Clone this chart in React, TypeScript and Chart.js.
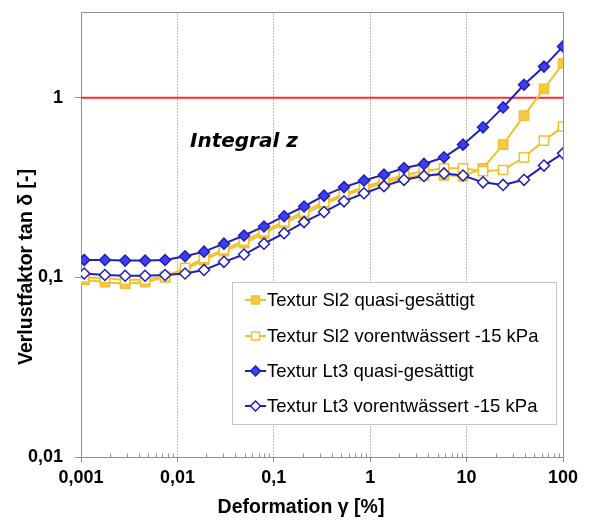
import React, { useEffect, useRef } from 'react';
import { Chart, registerables } from 'chart.js';
Chart.register(...registerables);

// ---- data ----
const strain = [0.00108, 0.00177, 0.00287, 0.00462, 0.00745, 0.012, 0.0189, 0.0304, 0.0491, 0.0791, 0.128, 0.206, 0.332, 0.535, 0.863, 1.39, 2.24, 3.61, 5.83, 9.18, 14.8, 23.9, 39.4, 63.5, 100];
const sl2Quasi = [0.097, 0.094, 0.092, 0.094, 0.1, 0.11, 0.125, 0.14, 0.155, 0.175, 0.2, 0.225, 0.255, 0.285, 0.31, 0.335, 0.36, 0.37, 0.37, 0.365, 0.405, 0.548, 0.795, 1.12, 1.55];
const sl2Vor = [0.1, 0.099, 0.097, 0.097, 0.101, 0.113, 0.128, 0.143, 0.16, 0.18, 0.205, 0.232, 0.262, 0.29, 0.318, 0.345, 0.37, 0.39, 0.405, 0.405, 0.39, 0.396, 0.466, 0.577, 0.69];
const lt3Quasi = [0.125, 0.125, 0.124, 0.124, 0.125, 0.131, 0.139, 0.154, 0.171, 0.192, 0.219, 0.248, 0.285, 0.318, 0.346, 0.373, 0.406, 0.428, 0.466, 0.548, 0.684, 0.883, 1.18, 1.49, 1.93];
const lt3Vor = [0.105, 0.103, 0.102, 0.102, 0.103, 0.105, 0.11, 0.122, 0.134, 0.154, 0.176, 0.203, 0.231, 0.265, 0.294, 0.322, 0.349, 0.367, 0.379, 0.369, 0.338, 0.327, 0.349, 0.419, 0.49];
const refLineX = [0.001, 100];
const refLineY = [1, 1];
const seriesNames = [
  'Textur Sl2 quasi-gesättigt',
  'Textur Sl2 vorentwässert -15 kPa',
  'Textur Lt3 quasi-gesättigt',
  'Textur Lt3 vorentwässert -15 kPa',
];
const xTickValues = [0.001, 0.01, 0.1, 1, 10, 100];
const xTickLabels = ['0,001', '0,01', '0,1', '1', '10', '100'];
const yTickValues = [0.01, 0.1, 1];
const yTickLabels = ['0,01', '0,1', '1'];
const xTitle = 'Deformation γ [%]';
const yTitle = 'Verlustfaktor tan δ [-]';
const annotation = 'Integral z';

const FONT = '"Liberation Sans", Arial, sans-serif';
const YELLOW = '#f2c12e';
const YELLOW_FILL = '#f7c843';
const BLUE = '#2020b8';
const BLUE_FILL = '#3f3ff2';
const AXIS = '#8f8f8f';

const pts = (ys: number[]) => strain.map((x, i) => ({ x, y: ys[i] }));

const overlay = {
  id: 'overlay',
  beforeDatasetsDraw(chart: any) {
    const { ctx, chartArea: a, scales } = chart;
    ctx.save();
    ctx.strokeStyle = AXIS;
    ctx.lineWidth = 1;
    ctx.setLineDash([]);
    // full frame (solid)
    const l = Math.round(a.left) + 0.5, t = Math.round(a.top) + 0.5;
    const r = Math.round(a.right) + 0.5, b = Math.round(a.bottom) + 0.5;
    ctx.beginPath();
    ctx.moveTo(l, b);
    ctx.lineTo(l, t);
    ctx.lineTo(r, t);
    ctx.lineTo(r, b);
    ctx.lineTo(l, b);
    ctx.stroke();
    // minor ticks on x axis (inside)
    const xs = scales.x;
    for (let d = -3; d < 2; d++) {
      for (let m = 2; m <= 9; m++) {
        const px = Math.round(xs.getPixelForValue(m * Math.pow(10, d))) + 0.5;
        ctx.beginPath();
        ctx.moveTo(px, b);
        ctx.lineTo(px, b - 4);
        ctx.stroke();
      }
    }
    ctx.restore();
  },
  afterDatasetsDraw(chart: any) {
    const { ctx } = chart;
    ctx.save();
    // annotation
    ctx.fillStyle = '#000';
    ctx.font = 'italic bold 20px "DejaVu Sans", Verdana, sans-serif';
    ctx.textAlign = 'left';
    ctx.textBaseline = 'alphabetic';
    ctx.fillText(annotation, 190, 147);

    // legend
    const lx = 232, ly = 282, lw = 324, lh = 142;
    ctx.fillStyle = '#ffffff';
    ctx.fillRect(lx, ly, lw, lh);
    ctx.strokeStyle = '#c4c4c4';
    ctx.lineWidth = 1;
    ctx.strokeRect(lx + 0.5, ly + 0.5, lw, lh);
    const rows = [300, 336, 371, 406];
    const dsets = chart.data.datasets;
    for (let i = 0; i < seriesNames.length; i++) {
      const ds = dsets[i];
      const y = rows[i];
      ctx.strokeStyle = ds.borderColor;
      ctx.lineWidth = 2;
      ctx.beginPath();
      ctx.moveTo(245, y);
      ctx.lineTo(266, y);
      ctx.stroke();
      ctx.fillStyle = ds.pointBackgroundColor;
      ctx.strokeStyle = ds.pointBorderColor;
      ctx.lineWidth = 1.5;
      ctx.beginPath();
      if (ds.pointStyle === 'rect') {
        ctx.rect(251.5, y - 4, 8, 8);
      } else {
        ctx.moveTo(255.5, y - 5);
        ctx.lineTo(260.5, y);
        ctx.lineTo(255.5, y + 5);
        ctx.lineTo(250.5, y);
        ctx.closePath();
      }
      ctx.fill();
      ctx.stroke();
      ctx.fillStyle = '#000';
      ctx.font = `18.5px ${FONT}`;
      ctx.textBaseline = 'middle';
      ctx.fillText(seriesNames[i], 267, y + 1);
    }

    // axis titles
    ctx.fillStyle = '#000';
    ctx.font = `bold 19.5px ${FONT}`;
    ctx.textAlign = 'center';
    ctx.textBaseline = 'middle';
    ctx.fillText(xTitle, 301, 508);
    ctx.translate(27, 267);
    ctx.rotate(-Math.PI / 2);
    ctx.fillText(yTitle, 0, 0);
    ctx.restore();
  },
};

export default function App() {
  const ref = useRef<HTMLCanvasElement>(null);
  useEffect(() => {
    const canvas = ref.current!;
    const chart = new Chart(canvas, {
      type: 'line',
      data: {
        datasets: [
          {
            label: seriesNames[0], data: pts(sl2Quasi), borderColor: YELLOW, borderWidth: 2,
            pointStyle: 'rect', pointRadius: 6.5, pointBackgroundColor: YELLOW_FILL, pointBorderColor: YELLOW,
            pointBorderWidth: 1.5, order: 3,
          },
          {
            label: seriesNames[1], data: pts(sl2Vor), borderColor: YELLOW, borderWidth: 2,
            pointStyle: 'rect', pointRadius: 6.5, pointBackgroundColor: '#ffffff', pointBorderColor: YELLOW,
            pointBorderWidth: 1.5, order: 2,
          },
          {
            label: seriesNames[2], data: pts(lt3Quasi), borderColor: BLUE, borderWidth: 2,
            pointStyle: 'rectRot', pointRadius: 5.5, pointBackgroundColor: BLUE_FILL, pointBorderColor: BLUE,
            pointBorderWidth: 1.5, order: 1,
          },
          {
            label: seriesNames[3], data: pts(lt3Vor), borderColor: BLUE, borderWidth: 2,
            pointStyle: 'rectRot', pointRadius: 5.5, pointBackgroundColor: '#ffffff', pointBorderColor: BLUE,
            pointBorderWidth: 1.5, order: 0,
          },
          {
            label: 'ref', data: refLineX.map((x, i) => ({ x, y: refLineY[i] })), borderColor: '#ff2a2a',
            borderWidth: 2, pointRadius: 0, order: 10,
          },
        ],
      },
      options: {
        responsive: false,
        animation: false,
        events: [],
        layout: { padding: { top: 12, right: 27, left: 0, bottom: 0 } },
        plugins: { legend: { display: false }, tooltip: { enabled: false } },
        scales: {
          x: {
            type: 'logarithmic',
            min: 0.001,
            max: 100,
            afterBuildTicks: (s: any) => { s.ticks = xTickValues.map((v) => ({ value: v })); },
            afterFit: (s: any) => { s.height = 65; s.paddingLeft = 0; s.paddingRight = 0; },
            ticks: {
              autoSkip: false, maxRotation: 0, padding: 5, color: '#000',
              font: { family: FONT, size: 18, weight: 'bold' },
              callback: (v: any) => { const i = xTickValues.findIndex((t) => Math.abs(t - v) / t < 1e-6); return i >= 0 ? xTickLabels[i] : ''; },
            },
            grid: { color: '#bcbcbc', lineWidth: 1, drawTicks: true, tickLength: 5, tickColor: AXIS, tickBorderDash: [] },
            border: { display: false, dash: [2, 1] },
          },
          y: {
            type: 'logarithmic',
            min: 0.01,
            max: 3,
            afterBuildTicks: (s: any) => { s.ticks = yTickValues.map((v) => ({ value: v })); },
            afterFit: (s: any) => { s.width = 81; s.paddingTop = 0; s.paddingBottom = 0; },
            ticks: {
              autoSkip: false, padding: 12, color: '#000',
              font: { family: FONT, size: 18, weight: 'bold' },
              callback: (v: any) => { const i = yTickValues.findIndex((t) => Math.abs(t - v) / t < 1e-6); return i >= 0 ? yTickLabels[i] : ''; },
            },
            grid: { drawOnChartArea: false, drawTicks: true, tickLength: 6, tickColor: AXIS },
            border: { display: false },
          },
        },
      } as any,
      plugins: [overlay],
    });
    return () => chart.destroy();
  }, []);
  return (
    <div style={{ position: 'absolute', left: 0, top: 0, width: 590, height: 522, background: '#fff' }}>
      <canvas ref={ref} width={590} height={522} style={{ width: 590, height: 522, display: 'block' }} />
    </div>
  );
}
